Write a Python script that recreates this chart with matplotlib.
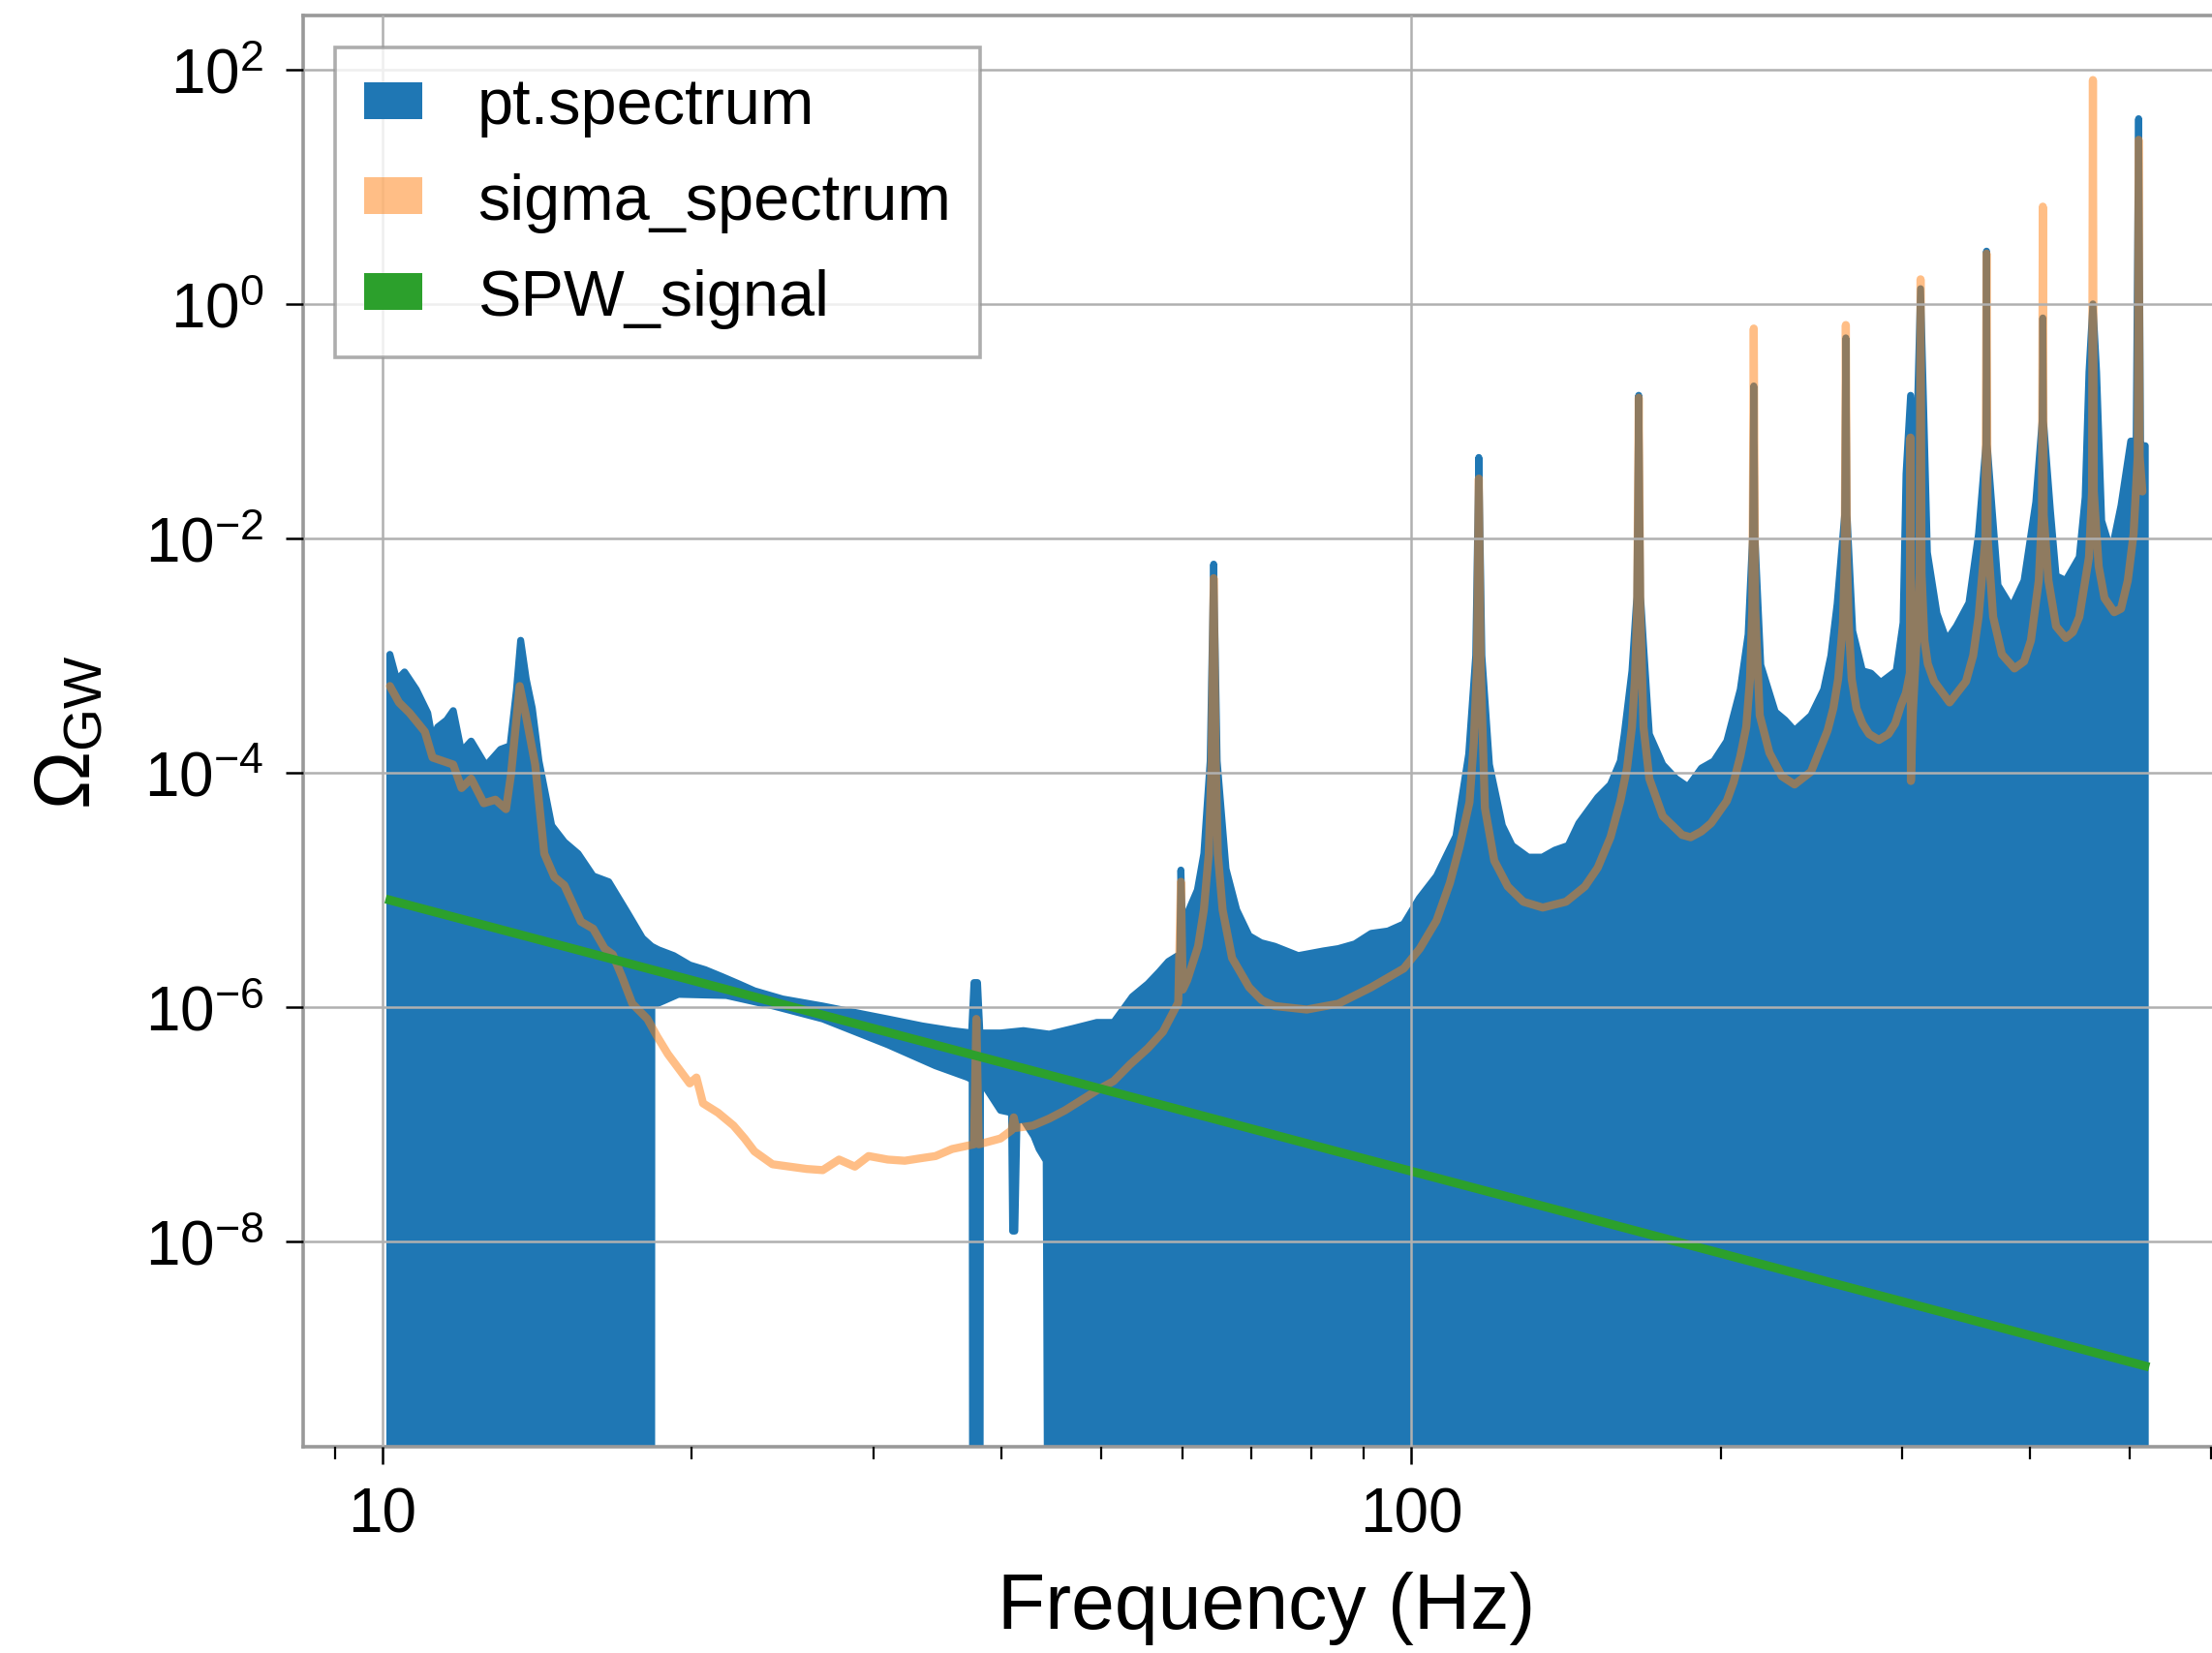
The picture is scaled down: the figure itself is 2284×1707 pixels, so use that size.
import numpy as np
import matplotlib
matplotlib.use("Agg")
import matplotlib.pyplot as plt
from matplotlib.patches import Patch
from matplotlib.ticker import FixedLocator, NullFormatter, FuncFormatter


plt.rcParams['font.family'] = ['Liberation Sans', 'DejaVu Sans']
plt.rcParams['mathtext.fontset'] = 'custom'
plt.rcParams['mathtext.rm'] = 'Liberation Sans'
plt.rcParams['mathtext.it'] = 'Liberation Sans:italic'
plt.rcParams['mathtext.bf'] = 'Liberation Sans:bold'

# ---- data (frequency in Hz, log10 of Omega_GW) ----

# upper edge of the pt.spectrum curve (it hits the bottom everywhere it is negative)
pt_freq = [10.17, 10.33, 10.51, 10.79, 11.07, 11.19, 11.32, 11.55, 11.72, 11.94,
           12.2, 12.61, 13.03, 13.31, 13.5, 13.63, 13.8, 13.99, 14.2, 14.61,
           15.03, 15.5, 16.03, 16.6, 17.3, 17.9, 18.27, 18.55, 19.2, 19.9,
           20.6, 21.4, 22.2, 23.0, 24.5, 26.8, 29.0, 31.0, 33.5, 35.8,
           37.4, 37.6, 37.9, 38.1, 39.9, 42.0, 44.5, 47.0, 49.5, 51.4,
           53.6, 55.5, 56.9, 58.1, 59.6, 59.75, 59.95, 61.1, 62.0, 62.9,
           63.8, 64.3, 64.8, 66.1, 67.7, 69.6, 71.5, 73.7, 77.7, 82.2,
           85.0, 88.2, 91.5, 95.0, 98.4, 101.9, 105.9, 110.6, 113.8, 115.6,
           116.4, 117.2, 119.2, 122.7, 125.4, 130.0, 134.2, 138.0, 142.2, 145.6,
           151.9, 156.3, 159.8, 161.2, 164.0, 165.8, 166.5, 167.2, 168.3, 170.5,
           175.7, 181.0, 185.9, 191.6, 197.0, 202.8, 209.0, 212.7, 214.8, 215.4,
           216.0, 218.8, 226.0, 231.0, 236.0, 244.9, 251.9, 256.0, 259.6, 264.0,
           264.7, 265.4, 268.8, 274.7, 280.0, 286.2, 291.2, 296.3, 300.9, 302.9,
           306.0, 309.5, 312.9, 317.7, 324.6, 331.7, 339.0, 348.7, 356.3, 362.2,
           362.7, 363.2, 367.3, 372.1, 383.6, 394.5, 405.0, 410.8, 411.4, 412.0,
           418.4, 423.8, 433.1, 446.4, 452.3, 456.2, 460.2, 464.0, 469.3, 479.6,
           490.1, 500.9, 507.0, 509.8, 512.0, 517.4]
pt_log = [-2.99, -3.21, -3.14, -3.29, -3.49, -3.72, -3.61, -3.55, -3.47, -3.82,
          -3.73, -3.94, -3.80, -3.77, -3.30, -2.87, -3.20, -3.45, -3.90, -4.45,
          -4.59, -4.69, -4.88, -4.93, -5.19, -5.41, -5.48, -5.51, -5.56, -5.64,
          -5.68, -5.74, -5.80, -5.86, -5.93, -5.99, -6.05, -6.10, -6.16, -6.20,
          -6.22, -5.79, -5.79, -6.22, -6.22, -6.20, -6.23, -6.18, -6.13, -6.13,
          -5.91, -5.80, -5.70, -5.61, -5.55, -4.83, -5.30, -5.13, -5.00, -4.69,
          -3.90, -2.22, -3.90, -4.82, -5.17, -5.39, -5.45, -5.48, -5.56, -5.52,
          -5.50, -5.46, -5.37, -5.35, -5.29, -5.07, -4.88, -4.54, -3.84, -3.00,
          -1.31, -3.00, -3.93, -4.45, -4.62, -4.72, -4.72, -4.66, -4.62, -4.43,
          -4.21, -4.10, -3.90, -3.67, -3.13, -2.50, -0.78, -2.50, -2.91, -3.67,
          -3.93, -4.05, -4.12, -3.96, -3.90, -3.73, -3.29, -2.82, -2.00, -0.70,
          -2.00, -3.08, -3.48, -3.55, -3.64, -3.51, -3.29, -3.00, -2.56, -1.80,
          -0.29, -1.80, -2.79, -3.13, -3.15, -3.23, -3.18, -3.13, -2.72, -1.45,
          -0.78, -1.50, 0.13, -2.12, -2.64, -2.87, -2.75, -2.55, -1.96, -1.20,
          0.45, -1.20, -1.76, -2.40, -2.59, -2.36, -1.69, -1.00, -0.12, -1.00,
          -1.76, -2.32, -2.36, -2.16, -1.65, -0.58, 0.00, -0.58, -1.85, -2.12,
          -1.72, -1.17, -1.17, 1.58, -1.21, -1.21]

# lower edge of pt.spectrum where it stays positive (-12 = runs off the bottom)
gap_freq = [18.27, 18.28, 19.4, 21.6, 24.0, 26.8, 31.0, 34.5, 37.1, 37.45,
            37.5, 38.1, 38.15, 38.5, 39.9, 40.9, 41.0, 41.2, 41.4, 42.0,
            43.0, 43.5, 44.2, 44.4]
gap_log = [-12, -5.99, -5.89, -5.90, -5.99, -6.10, -6.32, -6.50, -6.60, -6.62,
           -12, -12, -6.65, -6.67, -6.88, -6.90, -7.91, -7.91, -6.96, -6.96,
           -7.10, -7.21, -7.31, -12]

sigma_freq = [10.17, 10.38, 10.63, 11.0, 11.19, 11.72, 11.94, 12.2, 12.55, 12.88,
              13.19, 13.34, 13.6, 13.79, 14.08, 14.37, 14.7, 15.03, 15.6, 16.03,
              16.45, 16.75, 17.1, 17.5, 18.1, 18.5, 18.95, 19.4, 19.9, 20.2,
              20.5, 21.2, 21.95, 22.5, 23.0, 23.95, 24.9, 25.85, 26.8, 27.8,
              28.8, 29.7, 31.0, 32.2, 33.3, 34.5, 35.8, 37.6, 37.8, 38.0,
              39.9, 40.9, 41.1, 41.3, 42.9, 44.5, 46.1, 49.5, 51.4, 53.3,
              55.5, 57.4, 59.4, 59.75, 60.0, 60.6, 62.1, 62.9, 63.6, 64.0,
              64.3, 64.6, 64.9, 65.6, 67.0, 69.6, 71.6, 73.7, 79.2, 85.0,
              91.5, 98.4, 102.0, 105.9, 109.1, 111.5, 114.0, 115.1, 115.9, 116.4,
              116.9, 118.0, 120.5, 124.2, 128.6, 134.3, 141.5, 147.6, 151.9, 156.3,
              159.8, 162.2, 164.0, 165.1, 165.9, 166.5, 167.1, 168.3, 170.5, 175.7,
              183.5, 187.0, 191.6, 195.8, 202.8, 205.9, 209.0, 211.8, 213.6, 214.7,
              215.4, 216.1, 218.3, 223.1, 229.4, 236.0, 244.9, 254.1, 257.4, 260.2,
              263.0, 264.0, 264.7, 265.4, 266.4, 268.2, 271.1, 274.7, 278.9, 285.0,
              291.2, 295.6, 299.6, 302.8, 305.5, 305.9, 306.2, 307.5, 310.0, 312.2,
              312.9, 313.6, 315.6, 318.0, 322.5, 333.9, 346.4, 352.0, 356.3, 361.8,
              362.7, 363.6, 368.1, 375.4, 386.1, 394.5, 400.6, 407.7, 410.6, 411.4,
              412.2, 416.6, 423.8, 433.1, 440.0, 446.4, 456.2, 459.3, 460.2, 461.1,
              466.2, 472.3, 482.7, 490.1, 497.6, 504.1, 508.8, 509.8, 511.0, 514.1]
sigma_log = [-3.26, -3.40, -3.49, -3.65, -3.87, -3.93, -4.13, -4.05, -4.26, -4.23,
             -4.31, -4.01, -3.26, -3.51, -3.93, -4.69, -4.89, -4.96, -5.27, -5.33,
             -5.50, -5.55, -5.74, -5.97, -6.10, -6.25, -6.40, -6.52, -6.65, -6.60,
             -6.82, -6.90, -7.01, -7.12, -7.23, -7.34, -7.36, -7.38, -7.39, -7.30,
             -7.36, -7.27, -7.30, -7.31, -7.29, -7.27, -7.21, -7.17, -6.10, -7.17,
             -7.12, -7.05, -6.94, -7.03, -7.01, -6.95, -6.88, -6.71, -6.63, -6.49,
             -6.35, -6.21, -5.96, -4.93, -5.85, -5.77, -5.48, -5.17, -4.69, -3.90,
             -2.34, -3.90, -4.69, -5.17, -5.58, -5.83, -5.94, -5.99, -6.02, -5.97,
             -5.83, -5.67, -5.50, -5.26, -4.94, -4.63, -4.25, -3.74, -3.10, -1.49,
             -3.10, -4.30, -4.75, -4.97, -5.10, -5.15, -5.10, -4.97, -4.81, -4.55,
             -4.24, -3.96, -3.61, -3.20, -2.60, -0.80, -2.60, -3.61, -4.05, -4.37,
             -4.53, -4.55, -4.50, -4.43, -4.24, -4.08, -3.86, -3.61, -3.20, -2.60,
             -0.21, -2.60, -3.51, -3.83, -4.03, -4.10, -3.99, -3.64, -3.45, -3.20,
             -2.72, -2.20, -0.18, -2.20, -2.72, -3.20, -3.45, -3.58, -3.67, -3.72,
             -3.67, -3.58, -3.42, -3.32, -3.15, -1.14, -4.07, -3.50, -2.90, -2.30,
             0.21, -2.30, -2.87, -3.07, -3.22, -3.40, -3.22, -3.00, -2.67, -2.00,
             0.43, -2.00, -2.67, -2.99, -3.11, -3.05, -2.87, -2.36, -1.80, 0.83,
             -1.80, -2.36, -2.75, -2.85, -2.80, -2.67, -2.16, -1.60, 1.91, -1.60,
             -2.24, -2.51, -2.63, -2.60, -2.36, -1.96, -1.30, 1.40, -1.30, -1.60]

spw_freq = [10.17, 517.0]
spw_vals = [8.2e-6, 8.7e-10]

xticks_major = [10, 100]
xticks_minor = [9, 20, 30, 40, 50, 60, 70, 80, 90, 200, 300, 400, 500, 600]
yticks_major = [1e-8, 1e-6, 1e-4, 1e-2, 1e0, 1e2]


fig = plt.figure(figsize=(11.42, 8.54), dpi=200)
ax = fig.add_axes([0.137, 0.1247, 0.8713, 0.8653])
ax.set_xscale('log')
ax.set_yscale('log')

# pt.spectrum: upper edge left to right, then lower edge back to the start
poly_x = pt_freq + [pt_freq[-1]] + gap_freq[::-1] + [pt_freq[0]]
poly_y = pt_log + [-12] + gap_log[::-1] + [-12]
ax.fill(poly_x, 10.0 ** np.array(poly_y), facecolor='#1f77b4', edgecolor='#1f77b4',
        lw=2.6, joinstyle='round', zorder=1)

ax.plot(sigma_freq, 10.0 ** np.array(sigma_log), color='#ff7f0e', alpha=0.5, lw=3,
        solid_joinstyle='round', solid_capstyle='round', zorder=2)
ax.plot(spw_freq, spw_vals, color='#2ca02c', lw=3.3, zorder=2.2)

ax.set_xlim(8.374, 626)
ax.set_ylim(10 ** -9.75, 10 ** 2.46)

ax.xaxis.set_major_locator(FixedLocator(xticks_major))
ax.xaxis.set_minor_locator(FixedLocator(xticks_minor))
ax.xaxis.set_major_formatter(FuncFormatter(lambda v, p: '%d' % v))
ax.xaxis.set_minor_formatter(NullFormatter())
ax.yaxis.set_major_locator(FixedLocator(yticks_major))
ax.yaxis.set_minor_locator(FixedLocator([]))
ax.yaxis.set_major_formatter(FuncFormatter(lambda v, p: r'$10^{%d}$' % round(np.log10(v))))

ax.tick_params(which='major', direction='out', length=6.5, width=0.9, labelsize=23, pad=8)
ax.tick_params(which='minor', direction='out', length=4.5, width=0.8)

ax.grid(True, which='major', color='#b0b0b0', lw=0.9)
ax.set_axisbelow(False)
for s in ax.spines.values():
    s.set_color('#999999')
    s.set_linewidth(1.3)

ax.set_xlabel('Frequency (Hz)', fontsize=29, labelpad=10)
ax.set_ylabel(r'$\Omega_{\rm GW}$', fontsize=29, labelpad=14)

handles = [Patch(facecolor='#1f77b4'),
           Patch(facecolor='#ff7f0e', alpha=0.5),
           Patch(facecolor='#2ca02c')]
leg = ax.legend(handles, ['pt.spectrum', 'sigma_spectrum', 'SPW_signal'],
                loc='upper left', fontsize=24, fancybox=False, framealpha=0.8,
                handlelength=0.9, handleheight=0.5, handletextpad=0.85,
                labelspacing=0.55, borderpad=0.45, edgecolor='#999999')
leg.get_frame().set_linewidth(1.3)

fig.savefig('out.png', dpi=200)
